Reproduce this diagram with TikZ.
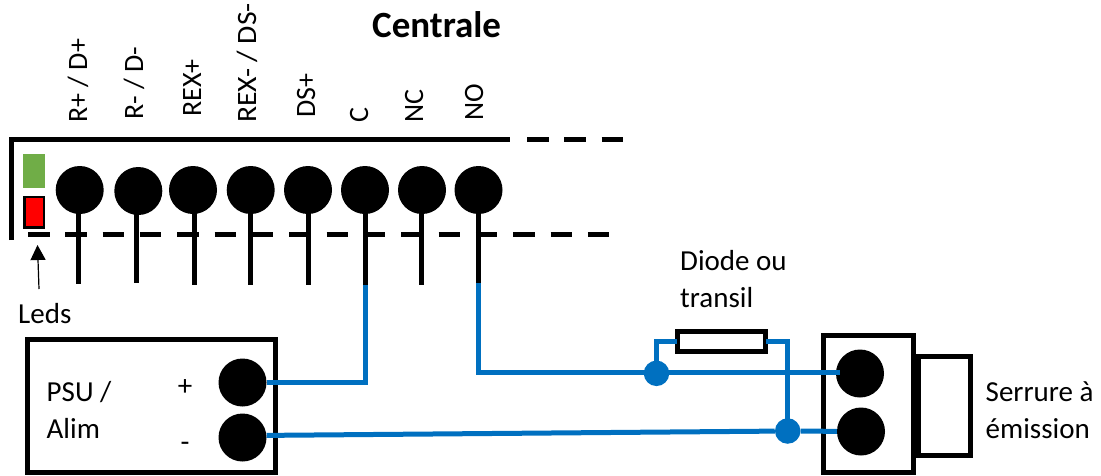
\documentclass[tikz,border=0pt]{standalone}
\usepackage{fontspec}
\setmainfont{Carlito}
\usetikzlibrary{arrows.meta}

\definecolor{led-green}{RGB}{112, 173, 71}
\definecolor{led-red}{RGB}{255, 0, 0}
\definecolor{wire-blue}{RGB}{0, 112, 192}

\begin{document}
\begin{tikzpicture}[
        x=1pt, y=-1pt,
        terminal/.style={shape=circle, fill=black, inner sep=0pt, minimum size=48pt},
        junction/.style={shape=circle, fill=wire-blue, inner sep=0pt, minimum size=25.5pt},
        case/.style={shape=rectangle, draw, line width=5pt, inner sep=0pt, outer sep=0pt},
        caption/.style={inner sep=0pt, font=\fontsize{29}{37.5}\selectfont, align=left},
        pinname/.style={inner sep=0pt, font=\fontsize{28}{37.5}\selectfont, rotate=90, anchor=base west},
        outline/.style={line width=5pt},
        dashline/.style={line width=5pt, dash pattern=on 21.5pt off 15.83pt},
        pinline/.style={line width=5pt},
        wire/.style={line width=5pt, wire-blue},
    ]
        \useasboundingbox (0,0) rectangle (1101,475);

        % titre et bornes
        \node[caption, anchor=base west, font=\fontsize{37}{40}\selectfont\bfseries] (title) at (372,37.5) {Centrale};
        \node[pinname] (name-rd-plus) at (87,123) {R+ / D+};
        \node[pinname] (name-rd-minus) at (143,120) {R- / D-};
        \node[pinname] (name-rex-plus) at (201,117) {REX+};
        \node[pinname, xscale=1.06] (name-rex-minus) at (256,123) {REX- / DS-};
        \node[pinname] (name-ds-plus) at (315,118) {DS+};
        \node[pinname] (name-c) at (368,123) {C};
        \node[pinname] (name-nc) at (423,123) {NC};
        \node[pinname] (name-no) at (483,121) {NO};

        % boitier centrale
        \coordinate (edge-corner) at (11,139);
        \coordinate (edge-left) at (11,240);
        \coordinate (edge-top) at (510,139);
        \coordinate (edge-dash-a) at (527,139);
        \coordinate (edge-dash-b) at (623,139);
        \coordinate (rail-a) at (28,234);
        \coordinate (rail-b) at (610,234);
        \draw[outline] (edge-left) -- (edge-corner) -- (edge-top);
        \draw[dashline] (edge-dash-a) -- (edge-dash-b);
        \draw[dashline] (rail-a) -- (rail-b);

        \node[fill=led-green, inner sep=0pt, minimum width=22pt, minimum height=33.5pt] (led-on) at (34.3,171) {};
        \node[fill=led-red, draw, line width=2.5pt, inner sep=0pt, outer sep=0pt, minimum width=19.5pt, minimum height=30.5pt] (led-off) at (34.3,212.3) {};

        \node[terminal] (t-rd-plus) at (79.7,190) {};
        \node[terminal] (t-rd-minus) at (138.3,191) {};
        \node[terminal] (t-rex-plus) at (193,190) {};
        \node[terminal] (t-rex-minus) at (250.7,190) {};
        \node[terminal] (t-ds-plus) at (308,190) {};
        \node[terminal] (t-c) at (365,190) {};
        \node[terminal] (t-nc) at (422,190) {};
        \node[terminal] (t-no) at (478.5,190) {};

        \coordinate (p-rd-plus) at (78,283.5);
        \coordinate (p-rd-minus) at (136.7,283);
        \coordinate (p-rex-plus) at (194.3,285);
        \coordinate (p-rex-minus) at (250.7,285);
        \coordinate (p-ds-plus) at (308,285);
        \coordinate (p-c) at (365.5,285);
        \coordinate (p-nc) at (421,285);
        \coordinate (p-no) at (478,283);
        \draw[pinline] (p-rd-plus |- t-rd-plus) -- (p-rd-plus);
        \draw[pinline] (p-rd-minus |- t-rd-minus) -- (p-rd-minus);
        \draw[pinline] (p-rex-plus |- t-rex-plus) -- (p-rex-plus);
        \draw[pinline] (p-rex-minus |- t-rex-minus) -- (p-rex-minus);
        \draw[pinline] (p-ds-plus |- t-ds-plus) -- (p-ds-plus);
        \draw[pinline] (p-c |- t-c) -- (p-c);
        \draw[pinline] (p-nc |- t-nc) -- (p-nc);
        \draw[pinline] (p-no |- t-no) -- (p-no);

        \node[caption, anchor=base west] (leds) at (18,323) {Leds};
        \coordinate (leds-tail) at (39,289);
        \coordinate (leds-tip) at (37.5,245);
        \draw[-{Triangle[length=15pt, width=15pt]}, line width=1.2pt] (leds-tail) -- (leds-tip);

        % alimentation
        \node[case, minimum width=247.5pt, minimum height=132.5pt] (psu) at (151.25,405.75) {};
        \node[caption, anchor=west] (psu-name) at (46.5,410) {PSU /\\Alim};
        \node[caption, anchor=center] (psu-plus-name) at (185,388) {+};
        \node[caption, anchor=center] (psu-minus-name) at (185,447) {-};
        \node[terminal] (psu-plus) at (242.5,382.5) {};
        \node[terminal] (psu-minus) at (242.5,437.5) {};

        % serrure
        \node[case, minimum width=90pt, minimum height=137pt] (door) at (868,404) {};
        \node[case, minimum width=52pt, minimum height=99pt] (lock) at (944.5,406) {};
        \node[caption, anchor=west] (lock-name) at (985.5,410) {Serrure à\\émission};
        \node[terminal] (door-a) at (860,373.5) {};
        \node[terminal] (door-b) at (861,431.5) {};
        \coordinate (door-a-in) at (840,372.5);

        % diode
        \node[caption, anchor=west] (diode-name) at (680,279) {Diode ou\\transil};
        \node[case, fill=white, minimum width=88.5pt, minimum height=20.5pt] (diode) at (721.5,341.5) {};

        % fils
        \node[junction] (j-a) at (656.5,373.3) {};
        \node[junction] (j-b) at (787.7,431) {};
        \draw[wire] (psu-plus.east) -| (p-c);
        \draw[wire] (p-no) |- (door-a-in);
        \draw[wire] (psu-minus.5) -- (j-b);
        \draw[wire] (j-b) -- (door-b);
        \draw[wire] (j-a.center) |- (diode.west);
        \draw[wire] (diode.east) -| (j-b.center);
    \end{tikzpicture}
\end{document}
